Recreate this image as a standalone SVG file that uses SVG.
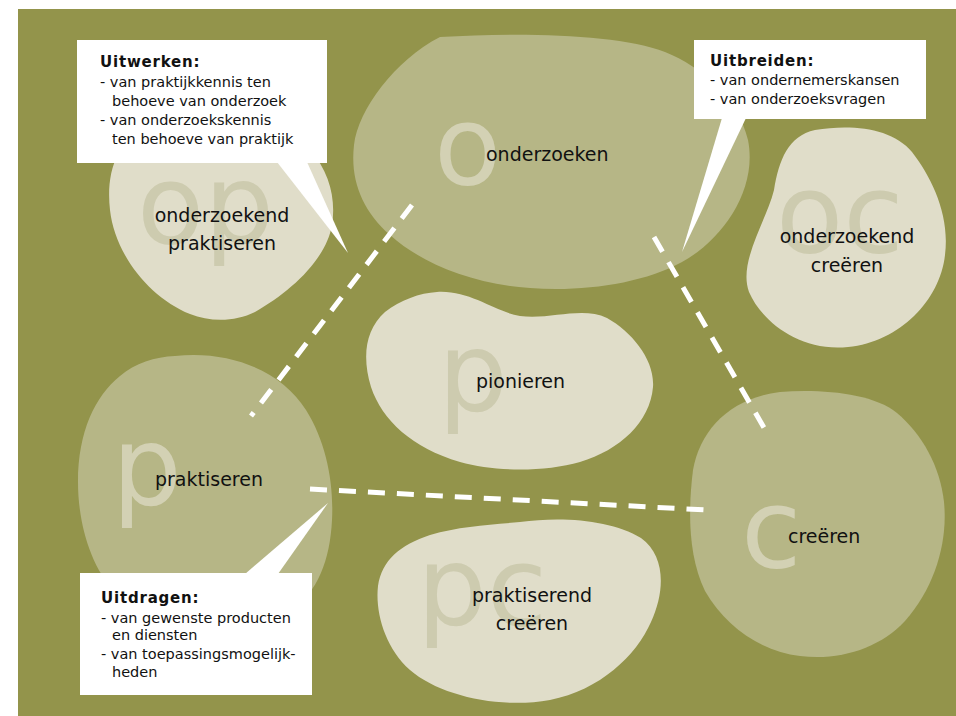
<svg xmlns="http://www.w3.org/2000/svg" width="956" height="716" viewBox="0 0 956 716">
<style>
.bg{fill:#ffffff}
.field{fill:#93944b}
.light{fill:#e0ddc9}
.mid{fill:#b6b686}
.big{font-family:"DejaVu Sans","Liberation Sans",sans-serif;font-size:110px;}
.bigl{fill:#cdcbaf}
.bigm{fill:#d3d1b4}
.lbl{font-family:"DejaVu Sans","Liberation Sans",sans-serif;font-size:19px;fill:#111111}
.c{text-anchor:middle}
.dash{stroke:#ffffff;stroke-width:5;stroke-dasharray:17 12;fill:none}
.box{fill:#ffffff}
.ht{font-family:"DejaVu Sans","Liberation Sans",sans-serif;font-size:15px;font-weight:bold;letter-spacing:0.8px;fill:#111111}
.bt{font-family:"DejaVu Sans","Liberation Sans",sans-serif;font-size:14.5px;fill:#111111}
</style>
<rect class="bg" x="0" y="0" width="956" height="716"/>
<rect class="field" x="18" y="9" width="938" height="707"/>

<g id="node-op">
<path class="light" d="M 150,125 C 200,110 280,118 310,150 C 330,172 336,200 332,225 C 326,260 290,292 255,312 C 235,322 210,322 190,314 C 150,298 115,255 110,210 C 106,175 115,140 150,125 Z"/>
<text class="big bigl" x="137" y="243">op</text>
<text class="lbl c" x="222" y="222">onderzoekend</text>
<text class="lbl c" x="222" y="250">praktiseren</text>
</g>

<g id="node-o">
<path class="mid" d="M 440,37 C 520,32 620,34 665,52 C 702,67 738,98 748,140 C 758,190 722,240 682,262 C 642,284 582,292 530,288 C 470,284 420,262 390,235 C 362,210 350,180 354,145 C 358,110 395,60 440,37 Z"/>
<text class="big bigm" x="434" y="184">o</text>
<text class="lbl" x="486" y="161">onderzoeken</text>
</g>

<g id="node-oc">
<path class="light" d="M 815,130 C 852,124 892,128 912,152 C 932,178 950,215 945,255 C 940,300 900,342 848,347 C 800,352 762,322 749,292 C 738,262 766,222 774,190 C 779,160 788,136 815,130 Z"/>
<text class="big bigl" x="776" y="252">oc</text>
<text class="lbl c" x="847" y="243">onderzoekend</text>
<text class="lbl c" x="847" y="272">creëren</text>
</g>

<g id="node-p">
<path class="light" d="M 437,292 C 470,290 495,312 520,316 C 550,320 582,306 607,318 C 632,332 655,360 653,387 C 650,422 620,450 580,462 C 545,472 495,472 460,462 C 412,448 382,420 371,387 C 362,357 365,330 385,312 C 400,300 420,293 437,292 Z"/>
<text class="big bigl" x="438" y="411">p</text>
<text class="lbl" x="476" y="388">pionieren</text>
</g>

<g id="node-pr">
<path class="mid" d="M 175,356 C 232,350 282,372 306,410 C 326,442 334,482 332,520 C 330,560 318,592 290,612 C 240,632 150,622 115,592 C 90,566 78,522 78,482 C 78,432 95,396 120,376 C 135,363 155,357 175,356 Z"/>
<text class="big bigm" x="112" y="505">p</text>
<text class="lbl" x="155" y="486">praktiseren</text>
</g>

<g id="node-c">
<path class="mid" d="M 780,392 C 822,389 872,393 897,413 C 922,434 940,466 944,502 C 948,542 935,587 905,621 C 880,648 840,661 800,656 C 760,651 725,626 705,591 C 688,556 688,510 693,470 C 700,430 730,398 780,392 Z"/>
<text class="big bigm" x="741" y="567">c</text>
<text class="lbl" x="788" y="543">creëren</text>
</g>

<g id="node-pc">
<path class="light" d="M 520,522 C 562,516 612,520 641,538 C 666,556 665,592 651,622 C 636,656 600,690 550,700 C 500,709 440,696 410,670 C 385,648 375,612 378,586 C 382,560 400,545 430,535 C 460,526 490,525 520,522 Z"/>
<text class="big bigl" x="417" y="625">pc</text>
<text class="lbl c" x="532" y="602">praktiserend</text>
<text class="lbl c" x="532" y="630">creëren</text>
</g>

<g id="connectors">
<line class="dash" x1="412" y1="205" x2="251" y2="416"/>
<line class="dash" x1="654" y1="237" x2="767" y2="433"/>
<line class="dash" x1="310" y1="489" x2="707" y2="510"/>
</g>

<g id="callout-uitwerken">
<polygon class="box" points="277,162 307,162 348,253"/>
<rect class="box" x="77" y="40" width="250" height="123"/>
<text class="ht" x="100" y="67">Uitwerken:</text>
<text class="bt" x="100" y="87">- van praktijkkennis ten</text>
<text class="bt" x="112" y="106">behoeve van onderzoek</text>
<text class="bt" x="100" y="125">- van onderzoekskennis</text>
<text class="bt" x="112" y="144">ten behoeve van praktijk</text>
</g>

<g id="callout-uitbreiden">
<polygon class="box" points="722,118 746,118 682,252"/>
<rect class="box" x="694" y="40" width="232" height="79"/>
<text class="ht" x="710" y="66">Uitbreiden:</text>
<text class="bt" x="710" y="85">- van ondernemerskansen</text>
<text class="bt" x="710" y="104">- van onderzoeksvragen</text>
</g>

<g id="callout-uitdragen">
<polygon class="box" points="245,574 278,574 328,503"/>
<rect class="box" x="80" y="573" width="232" height="122"/>
<text class="ht" x="101" y="603">Uitdragen:</text>
<text class="bt" x="101" y="623">- van gewenste producten</text>
<text class="bt" x="112" y="640">en diensten</text>
<text class="bt" x="101" y="659">- van toepassingsmogelijk-</text>
<text class="bt" x="112" y="677">heden</text>
</g>
</svg>
